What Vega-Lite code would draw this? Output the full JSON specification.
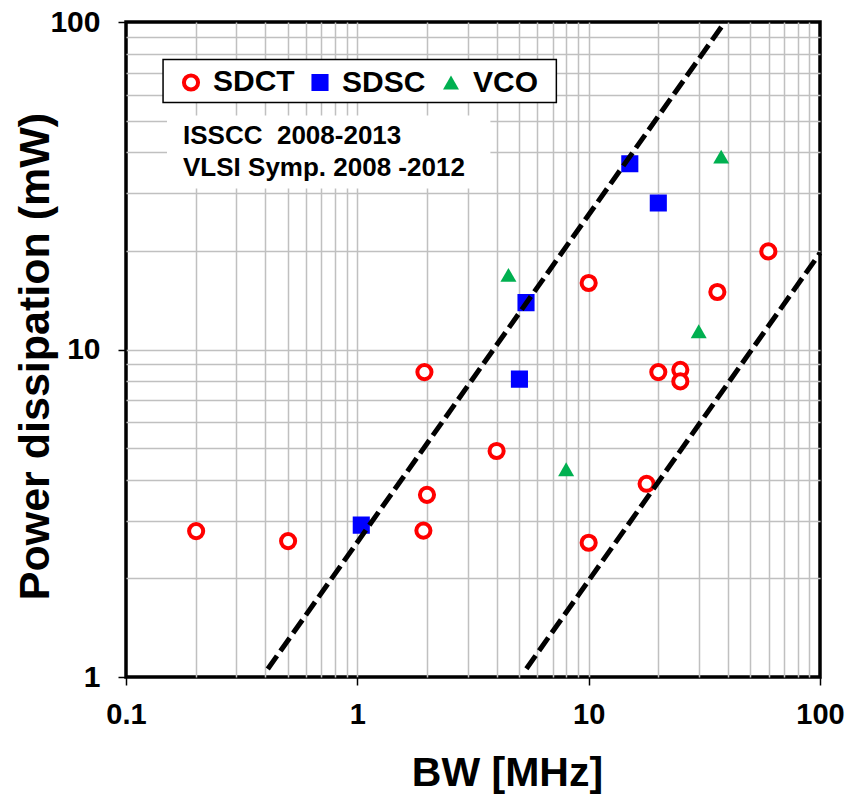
{
  "$schema": "https://vega.github.io/schema/vega-lite/v6.json",
  "width": 694,
  "height": 655,
  "autosize": {"type": "none"},
  "padding": {"left": 126, "top": 22, "right": 28, "bottom": 117},
  "background": "white",
  "config": {
    "view": {"stroke": "black", "strokeWidth": 3.5},
    "font": "Liberation Sans",
    "legend": {
      "orient": "none",
      "legendX": 50,
      "legendY": 45,
      "direction": "horizontal",
      "padding": 0,
      "labelFont": "Liberation Sans",
      "labelFontSize": 30,
      "labelFontWeight": "bold",
      "labelColor": "black",
      "labelOffset": 7,
      "columnPadding": 10
    }
  },
  "datasets": {
    "pts": [
      {"series": "SDCT", "bw": 0.201, "pd": 2.79},
      {"series": "SDCT", "bw": 0.502, "pd": 2.6},
      {"series": "SDCT", "bw": 1.95, "pd": 8.53},
      {"series": "SDCT", "bw": 2.0, "pd": 3.6},
      {"series": "SDCT", "bw": 1.93, "pd": 2.8},
      {"series": "SDCT", "bw": 4.0, "pd": 4.9},
      {"series": "SDCT", "bw": 10, "pd": 15.96},
      {"series": "SDCT", "bw": 10, "pd": 2.57},
      {"series": "SDCT", "bw": 20, "pd": 8.53},
      {"series": "SDCT", "bw": 17.8, "pd": 3.89},
      {"series": "SDCT", "bw": 24.9, "pd": 8.67},
      {"series": "SDCT", "bw": 24.9, "pd": 7.99},
      {"series": "SDCT", "bw": 36, "pd": 14.98},
      {"series": "SDCT", "bw": 59.8, "pd": 19.93},
      {"series": "SDSC", "bw": 1.04, "pd": 2.91},
      {"series": "SDSC", "bw": 5.02, "pd": 8.12},
      {"series": "SDSC", "bw": 5.36, "pd": 13.9},
      {"series": "SDSC", "bw": 15.06, "pd": 36.9},
      {"series": "SDSC", "bw": 20, "pd": 28},
      {"series": "VCO", "bw": 4.5, "pd": 16.9},
      {"series": "VCO", "bw": 7.99, "pd": 4.31},
      {"series": "VCO", "bw": 29.9, "pd": 11.37},
      {"series": "VCO", "bw": 37.4, "pd": 38.8}
    ],
    "lines": [
      {"line": "upper", "bw": 0.41, "pd": 1.058},
      {"line": "upper", "bw": 38.8, "pd": 100},
      {"line": "lower", "bw": 5.38, "pd": 1.06},
      {"line": "lower", "bw": 100, "pd": 19.7}
    ],
    "boxes": [
      {"box": "legend", "bw": 0.1446, "bw2": 7.25, "pd": 76.8, "pd2": 56.8},
      {"box": "note", "bw": 0.1504, "bw2": 3.76, "pd": 51.8, "pd2": 31.0}
    ],
    "notes": [
      {"text": "ISSCC \u00a02008-2013", "bw": 0.1764, "pd": 42.5},
      {"text": "VLSI Symp. 2008 -2012", "bw": 0.1764, "pd": 33.8}
    ]
  },
  "layer": [
    {
      "data": {"name": "boxes"},
      "transform": [{"filter": "datum.box === 'note'"}],
      "mark": {"type": "rect", "fill": "white", "strokeWidth": 0},
      "encoding": {
        "x": {
          "field": "bw", "type": "quantitative",
          "scale": {"type": "log", "domain": [0.1, 100], "nice": false},
          "axis": {
            "title": "BW [MHz]",
            "titleFont": "Liberation Sans",
            "titleFontSize": 41,
            "titleFontWeight": "bold",
            "titleColor": "black",
            "titleX": 381,
            "titleY": 108,
            "titleBaseline": "alphabetic",
            "titleAlign": "center",
            "values": [0.1, 0.2, 0.3, 0.4, 0.5, 0.6, 0.7, 0.8, 0.9, 1, 2, 3, 4, 5, 6, 7, 8, 9, 10, 20, 30, 40, 50, 60, 70, 80, 90, 100],
            "labelExpr": "indexof([0.1, 1, 10, 100], datum.value) >= 0 ? format(datum.value, '~g') : ''",
            "labelFont": "Liberation Sans",
            "labelFontSize": 29,
            "labelFontWeight": "bold",
            "labelColor": "black",
            "labelPadding": 15,
            "labelOverlap": false,
            "labelFlush": false,
            "tickSize": 8,
            "tickColor": "black",
            "tickWidth": 1.5,
            "tickOpacity": {"condition": {"test": "indexof([0.1, 1, 10, 100], datum.value) >= 0", "value": 1}, "value": 0},
            "grid": true,
            "gridColor": "#c0c0c0",
            "gridWidth": 1.5,
            "gridOpacity": {"condition": {"test": "datum.value <= 0.1 || datum.value >= 100", "value": 0}, "value": 1},
            "domain": false
          }
        },
        "x2": {"field": "bw2"},
        "y": {
          "field": "pd", "type": "quantitative",
          "scale": {"type": "log", "domain": [1, 100], "nice": false},
          "axis": {
            "title": "Power dissipation (mW)",
            "titleFont": "Liberation Sans",
            "titleFontSize": 43,
            "titleFontWeight": "bold",
            "titleColor": "black",
            "titleX": -91,
            "titleY": 334,
            "titleAngle": -90,
            "titleBaseline": "middle",
            "titleAlign": "center",
            "values": [1, 2, 3, 4, 5, 6, 7, 8, 9, 10, 20, 30, 40, 50, 60, 70, 80, 90, 100],
            "labelExpr": "indexof([1, 10, 100], datum.value) >= 0 ? format(datum.value, '~g') : ''",
            "labelFont": "Liberation Sans",
            "labelFontSize": 30,
            "labelFontWeight": "bold",
            "labelColor": "black",
            "labelPadding": 18,
            "labelOverlap": false,
            "labelFlush": false,
            "tickSize": 8,
            "tickColor": "black",
            "tickWidth": 1.5,
            "tickOpacity": {"condition": {"test": "indexof([1, 10, 100], datum.value) >= 0", "value": 1}, "value": 0},
            "grid": true,
            "gridColor": "#c0c0c0",
            "gridWidth": 1.5,
            "gridOpacity": {"condition": {"test": "datum.value <= 1 || datum.value >= 100", "value": 0}, "value": 1},
            "domain": false
          }
        },
        "y2": {"field": "pd2"}
      }
    },
    {
      "data": {"name": "boxes"},
      "transform": [{"filter": "datum.box === 'legend'"}],
      "mark": {"type": "rect", "fill": "white", "stroke": "black", "strokeWidth": 1.5},
      "encoding": {
        "x": {"field": "bw", "type": "quantitative"},
        "x2": {"field": "bw2"},
        "y": {"field": "pd", "type": "quantitative"},
        "y2": {"field": "pd2"}
      }
    },
    {
      "data": {"name": "pts"},
      "mark": {"type": "point", "filled": true, "opacity": 1},
      "encoding": {
        "x": {"field": "bw", "type": "quantitative"},
        "y": {"field": "pd", "type": "quantitative"},
        "shape": {
          "field": "series", "type": "nominal",
          "scale": {"domain": ["SDCT", "SDSC", "VCO"], "range": ["circle", "square", "triangle-up"]},
          "legend": {"title": null}
        },
        "fill": {
          "field": "series", "type": "nominal",
          "scale": {"domain": ["SDCT", "SDSC", "VCO"], "range": ["white", "#0000ff", "#00b050"]},
          "legend": {"title": null}
        },
        "stroke": {
          "field": "series", "type": "nominal",
          "scale": {"domain": ["SDCT", "SDSC", "VCO"], "range": ["#ff0000", "#0000ff", "#00b050"]},
          "legend": {"title": null}
        },
        "strokeWidth": {
          "field": "series", "type": "nominal",
          "scale": {"domain": ["SDCT", "SDSC", "VCO"], "range": [4, 0, 0]},
          "legend": {"title": null}
        },
        "size": {
          "field": "series", "type": "nominal",
          "scale": {"domain": ["SDCT", "SDSC", "VCO"], "range": [200, 256, 240]},
          "legend": {"title": null}
        }
      }
    },
    {
      "data": {"name": "lines"},
      "mark": {"type": "line", "color": "black", "strokeWidth": 5, "strokeDash": [16, 6], "strokeCap": "butt"},
      "encoding": {
        "x": {"field": "bw", "type": "quantitative"},
        "y": {"field": "pd", "type": "quantitative"},
        "detail": {"field": "line", "type": "nominal"}
      }
    },
    {
      "data": {"name": "notes"},
      "mark": {"type": "text", "align": "left", "baseline": "alphabetic", "font": "Liberation Sans", "fontSize": 26, "fontWeight": "bold", "color": "black"},
      "encoding": {
        "x": {"field": "bw", "type": "quantitative"},
        "y": {"field": "pd", "type": "quantitative"},
        "text": {"field": "text", "type": "nominal"}
      }
    }
  ]
}
